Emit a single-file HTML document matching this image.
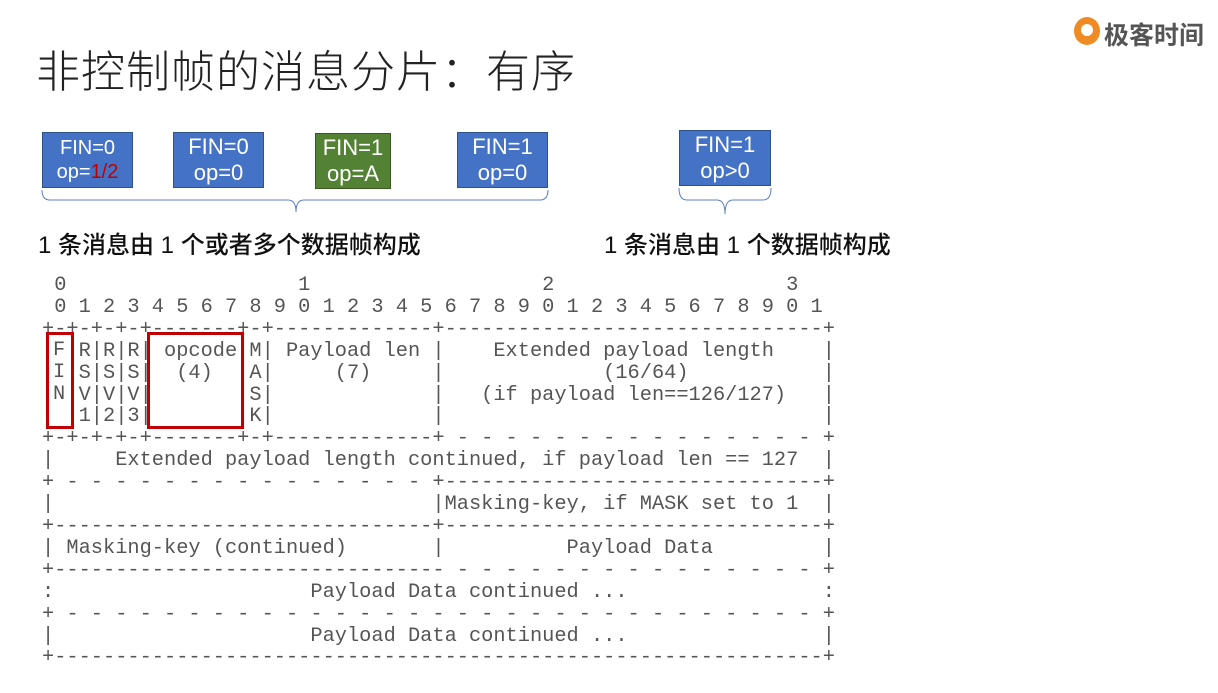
<!DOCTYPE html>
<html><head><meta charset="utf-8"><style>
body{margin:0;width:1218px;height:693px;background:#fff;position:relative;overflow:hidden;font-family:"Liberation Sans","Noto Sans CJK SC",sans-serif}
.t{position:absolute;left:36px;top:36px;font-size:44px;color:#222;font-family:"Noto Sans CJK SC",sans-serif;font-weight:300;letter-spacing:1px}
.b{position:absolute;background:#4472c4;border:1px solid #2f528f;color:#fff;text-align:center;font-size:22px;line-height:26px;box-sizing:border-box;padding-top:1px}
.s{position:absolute;font-size:24px;color:#111;font-family:"Liberation Sans","Noto Sans CJK SC",sans-serif;font-weight:500}
pre{position:absolute;left:42px;top:275px;margin:0;font-family:"Liberation Mono",monospace;font-size:20.33px;line-height:21.9px;color:#555}
.r{position:absolute;border:3px solid #c00000;box-sizing:border-box}
</style></head><body>
<div class="t">非控制帧的消息分片：有序</div>
<div style="position:absolute;left:1074px;top:17px;width:26px;height:28px;border-radius:50%;background:#f08a24"></div>
<div style="position:absolute;left:1081px;top:24px;width:12px;height:12px;border-radius:50%;background:#fff"></div>
<div style="position:absolute;left:1104px;top:16px;font-size:25px;color:#555;font-family:'Noto Sans CJK SC',sans-serif;font-weight:bold">极客时间</div>

<div class="b" style="left:42px;top:132px;width:91px;height:56px;font-size:20px;line-height:24px;padding-top:3px">FIN=0<br>op=<span style="color:#c00000">1/2</span></div>
<div class="b" style="left:173px;top:132px;width:91px;height:56px">FIN=0<br>op=0</div>
<div class="b" style="left:315px;top:133px;width:76px;height:56px;background:#548235;border-color:#385723">FIN=1<br>op=A</div>
<div class="b" style="left:457px;top:132px;width:91px;height:56px">FIN=1<br>op=0</div>
<div class="b" style="left:679px;top:130px;width:92px;height:56px">FIN=1<br>op&gt;0</div>

<svg style="position:absolute;left:0;top:0" width="1218" height="693">
<path d="M42 190 Q42 200 50 200 L288 200 Q296 200 296 212 Q296 200 304 200 L540 200 Q548 200 548 190" fill="none" stroke="#5b7fc4" stroke-width="1"/>
<path d="M679 188 Q679 200 687 200 L717 200 Q725 200 725 214 Q725 200 733 200 L763 200 Q771 200 771 188" fill="none" stroke="#5b7fc4" stroke-width="1"/>
</svg>

<div class="s" style="left:38px;top:225px">1 条消息由 1 个或者多个数据帧构成</div>
<div class="s" style="left:604px;top:225px">1 条消息由 1 个数据帧构成</div>

<pre> 0                   1                   2                   3
 0 1 2 3 4 5 6 7 8 9 0 1 2 3 4 5 6 7 8 9 0 1 2 3 4 5 6 7 8 9 0 1
+-+-+-+-+-------+-+-------------+-------------------------------+
|F|R|R|R| opcode|M| Payload len |    Extended payload length    |
|I|S|S|S|  (4)  |A|     (7)     |             (16/64)           |
|N|V|V|V|       |S|             |   (if payload len==126/127)   |
| |1|2|3|       |K|             |                               |
+-+-+-+-+-------+-+-------------+ - - - - - - - - - - - - - - - +
|     Extended payload length continued, if payload len == 127  |
+ - - - - - - - - - - - - - - - +-------------------------------+
|                               |Masking-key, if MASK set to 1  |
+-------------------------------+-------------------------------+
| Masking-key (continued)       |          Payload Data         |
+-------------------------------- - - - - - - - - - - - - - - - +
:                     Payload Data continued ...                :
+ - - - - - - - - - - - - - - - - - - - - - - - - - - - - - - - +
|                     Payload Data continued ...                |
+---------------------------------------------------------------+</pre>
<div class="r" style="left:46px;top:332px;width:28px;height:97px;background:#fff"></div>
<div style="position:absolute;left:53px;top:340px;font-family:'Liberation Mono',monospace;font-size:20.33px;line-height:21.9px;color:#555">F<br>I<br>N</div>
<div class="r" style="left:147px;top:332px;width:97px;height:97px"></div>
</body></html>
